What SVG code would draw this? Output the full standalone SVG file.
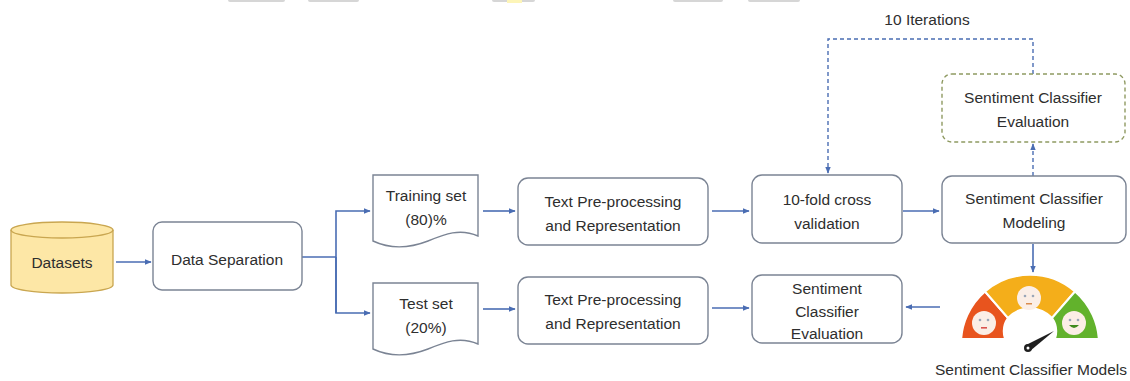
<svg xmlns="http://www.w3.org/2000/svg" width="1130" height="381" viewBox="0 0 1130 381">
  <style>
    .box { fill: #ffffff; stroke: #7b8494; stroke-width: 1.4; }
    .lbl { font-family: "Liberation Sans", Arial, sans-serif; font-size: 15.5px; fill: #2e2e2e; text-anchor: middle; }
    .conn { fill: none; stroke: #4a6db3; stroke-width: 1.6; }
    .dash { fill: none; stroke: #4a6db3; stroke-width: 1.4; stroke-dasharray: 4 3; }
    .face { fill: #fbeee6; }
    .eye { fill: #9aa6b8; }
  </style>
  <defs>
    <marker id="arr" viewBox="0 0 10 10" refX="9" refY="5" markerWidth="7" markerHeight="7" orient="auto" markerUnits="userSpaceOnUse">
      <path d="M0,1 L10,5 L0,9 Z" fill="#4a6db3"/>
    </marker>
    <clipPath id="gaugeClip">
      <rect x="940" y="260" width="180" height="78"/>
    </clipPath>
  </defs>

  <rect width="1130" height="381" fill="#ffffff"/>

  <!-- faint strips along the top edge -->
  <g fill="#d6d6d6">
    <rect x="228" y="-3" width="57" height="5" rx="2"/>
    <rect x="308" y="-3" width="51" height="5" rx="2"/>
    <rect x="492" y="-3" width="43" height="5" rx="2"/>
    <rect x="673" y="-3" width="50" height="5" rx="2"/>
    <rect x="748" y="-3" width="52" height="5" rx="2"/>
  </g>
  <rect x="507" y="-3" width="15" height="6" fill="#fdf5b8"/>

  <!-- connectors -->
  <g id="connectors">
    <line class="conn" x1="116" y1="262" x2="151" y2="262" marker-end="url(#arr)"/>
    <polyline class="conn" points="302,257 336,257"/>
    <polyline class="conn" points="336,313 336,211 370,211" marker-end="url(#arr)"/>
    <polyline class="conn" points="336,257 336,313 370,313" marker-end="url(#arr)"/>
    <line class="conn" x1="483" y1="211" x2="515" y2="211" marker-end="url(#arr)"/>
    <line class="conn" x1="483" y1="309" x2="515" y2="309" marker-end="url(#arr)"/>
    <line class="conn" x1="712" y1="211" x2="749" y2="211" marker-end="url(#arr)"/>
    <line class="conn" x1="712" y1="308" x2="749" y2="308" marker-end="url(#arr)"/>
    <line class="conn" x1="903" y1="211" x2="939" y2="211" marker-end="url(#arr)"/>
    <line class="conn" x1="1033" y1="244" x2="1033" y2="272" marker-end="url(#arr)"/>
    <line class="conn" x1="940" y1="307" x2="906" y2="307" marker-end="url(#arr)"/>
    <line class="dash" x1="1033" y1="176" x2="1033" y2="144" marker-end="url(#arr)"/>
    <polyline class="dash" points="1033,74 1033,39 828,39 828,173" marker-end="url(#arr)"/>
    <text class="lbl" x="927" y="25" font-size="14">10 Iterations</text>
  </g>

  <g id="datasets">
    <path d="M11,230 A51,8 0 0 1 113,230 V285 A51,8 0 0 1 11,285 Z" fill="#fde7a6" stroke="#c9a650" stroke-width="1.3"/>
    <path d="M11,230 A51,8 0 0 0 113,230" fill="none" stroke="#c9a650" stroke-width="1.3"/>
    <text class="lbl" x="62" y="268">Datasets</text>
  </g>

  <g id="data-separation">
    <rect class="box" x="153" y="222" width="149" height="68" rx="9"/>
    <text class="lbl" x="227" y="265">Data Separation</text>
  </g>

  <g id="training-set">
    <path class="box" d="M373,175 H478 V236 C460,228 445,234 428,241 C410,248 390,249 373,241 Z"/>
    <text class="lbl" x="426" y="201">Training set</text>
    <text class="lbl" x="426" y="225">(80)%</text>
  </g>

  <g id="test-set">
    <path class="box" d="M373,283 H478 V344 C460,336 445,342 428,349 C410,356 390,357 373,349 Z"/>
    <text class="lbl" x="426" y="309">Test set</text>
    <text class="lbl" x="426" y="333">(20%)</text>
  </g>

  <g id="preprocess-train">
    <rect class="box" x="518" y="178" width="190" height="67" rx="10"/>
    <text class="lbl" x="613" y="207">Text Pre-processing</text>
    <text class="lbl" x="613" y="231">and Representation</text>
  </g>

  <g id="preprocess-test">
    <rect class="box" x="518" y="277" width="190" height="67" rx="10"/>
    <text class="lbl" x="613" y="305">Text Pre-processing</text>
    <text class="lbl" x="613" y="329">and Representation</text>
  </g>

  <g id="cross-validation">
    <rect class="box" x="752" y="175" width="150" height="68" rx="10"/>
    <text class="lbl" x="827" y="205">10-fold cross</text>
    <text class="lbl" x="827" y="229">validation</text>
  </g>

  <g id="test-evaluation">
    <rect class="box" x="752" y="275" width="150" height="68" rx="10"/>
    <text class="lbl" x="827" y="294">Sentiment</text>
    <text class="lbl" x="827" y="317">Classifier</text>
    <text class="lbl" x="827" y="339">Evaluation</text>
  </g>

  <g id="modeling">
    <rect class="box" x="942" y="176" width="184" height="67" rx="10"/>
    <text class="lbl" x="1034" y="204">Sentiment Classifier</text>
    <text class="lbl" x="1034" y="228">Modeling</text>
  </g>

  <g id="cv-evaluation">
    <rect x="942" y="74" width="183" height="68" rx="10" fill="#ffffff" stroke="#8f9a62" stroke-width="1.4" stroke-dasharray="4 3"/>
    <text class="lbl" x="1033" y="103">Sentiment Classifier</text>
    <text class="lbl" x="1033" y="127">Evaluation</text>
  </g>

  <g id="classifier-models">
    <!-- gauge: three annular sectors around (1030,344), cut flat at y=338 -->
    <g clip-path="url(#gaugeClip)">
      <path d="M961,344 A69,69 0 0 1 985,291.5 L1008,318 A22,22 0 0 0 1008,344 Z" fill="#e8541e" stroke="#ffffff" stroke-width="2"/>
      <path d="M985,291.5 A69,69 0 0 1 1075,291.5 L1052,318 A30,30 0 0 0 1008,318 Z" fill="#f4ae1a" stroke="#ffffff" stroke-width="2"/>
      <path d="M1075,291.5 A69,69 0 0 1 1099,344 L1052,344 A22,22 0 0 0 1052,318 Z" fill="#62b22c" stroke="#ffffff" stroke-width="2"/>
    </g>
    <!-- faces -->
    <circle class="face" cx="984" cy="323" r="12"/>
    <circle class="eye" cx="980" cy="320" r="1.3"/>
    <circle class="eye" cx="988" cy="320" r="1.3"/>
    <rect x="981" y="327" width="6" height="1.6" fill="#d9534f"/>
    <circle class="face" cx="1029" cy="298" r="12"/>
    <circle class="eye" cx="1025" cy="296" r="1.3"/>
    <circle class="eye" cx="1033" cy="296" r="1.3"/>
    <rect x="1026" y="303" width="6" height="1.5" fill="#d98b4f"/>
    <circle class="face" cx="1074" cy="323" r="12"/>
    <circle class="eye" cx="1070" cy="320" r="1.3"/>
    <circle class="eye" cx="1078" cy="320" r="1.3"/>
    <path d="M1069,325 Q1074,331 1079,325 Z" fill="#3f8a1e"/>
    <!-- needle -->
    <path d="M1026,345 L1054,331 L1030,351 Z" fill="#1f1f1f"/>
    <circle cx="1028" cy="348" r="4" fill="#1f1f1f"/>
    <circle cx="1028" cy="348" r="1.5" fill="#ffffff"/>
    <text class="lbl" x="1031" y="375">Sentiment Classifier Models</text>
  </g>
</svg>
